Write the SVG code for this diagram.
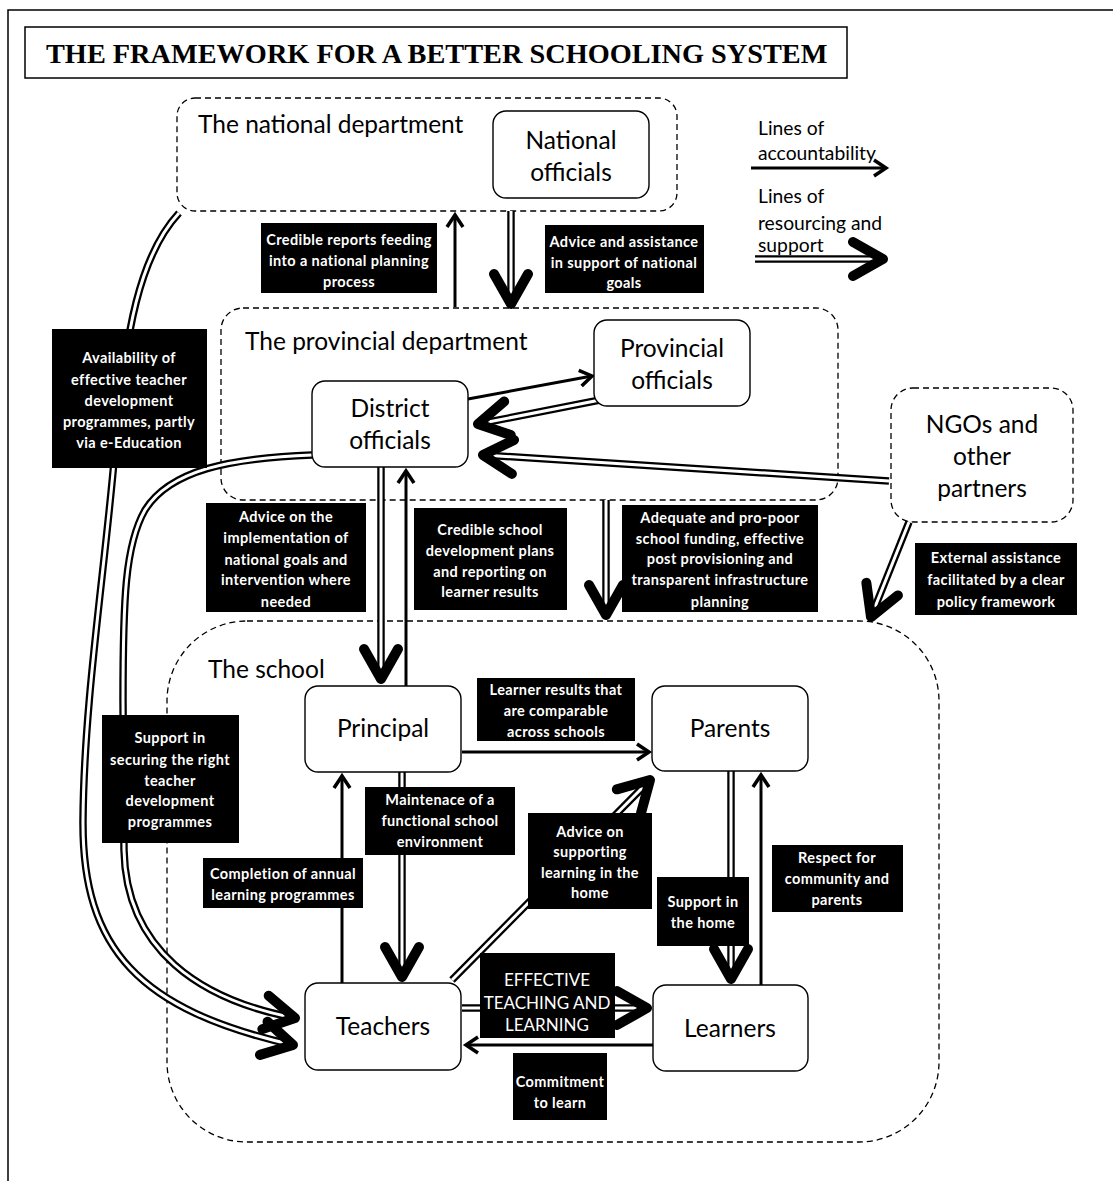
<svg xmlns="http://www.w3.org/2000/svg" xmlns:xlink="http://www.w3.org/1999/xlink" width="1113" height="1181" viewBox="0 0 1113 1181">
<style>
.frame{fill:none;stroke:#000;stroke-width:1.5}
.grp{fill:none;stroke:#000;stroke-width:1.3;stroke-dasharray:6 4}
.box{fill:#fff;stroke:#000;stroke-width:1.4}
.t{font-family:Lato,"Liberation Sans",sans-serif;font-size:24.5px;fill:#000}
.leg{font-family:Lato,"Liberation Sans",sans-serif;font-size:19.3px;fill:#000}
.c{text-anchor:middle}
.title{font-family:"Liberation Serif","Times New Roman",serif;font-weight:bold;font-size:28.3px;fill:#000}
.lb rect{fill:#000}
.lb text{font-family:Lato,"Liberation Sans",sans-serif;font-weight:bold;font-size:14.5px;fill:#fff;text-anchor:middle;letter-spacing:0.4px}
.lb text.eff{font-weight:normal;font-size:17px;letter-spacing:0}
.s{fill:none;stroke:#000;stroke-width:3;marker-end:url(#ah)}
.db{fill:none;stroke:#000;stroke-width:7.5}
.dw{fill:none;stroke:#fff;stroke-width:3}
.dm{fill:none;stroke:none;marker-end:url(#ad)}
</style>
<defs>
<marker id="ah" markerUnits="userSpaceOnUse" orient="auto" overflow="visible" markerWidth="1" markerHeight="1" refX="0" refY="0">
<path d="M-12,-8 L0,0 L-12,8" fill="none" stroke="#000" stroke-width="3.5"/>
</marker>
<marker id="ad" markerUnits="userSpaceOnUse" orient="auto" overflow="visible" markerWidth="1" markerHeight="1" refX="0" refY="0">
<path d="M-30,-17 L0,0 L-30,17" fill="none" stroke="#000" stroke-width="10" stroke-linejoin="round" stroke-linecap="round"/>
</marker>
<path id="dLeg" d="M755,259 L883,259"/>
<path id="dNatProv" d="M511,211 L511,304"/>
<path id="dProvDist" d="M600,400 L478,424"/>
<path id="dNgoDist" d="M889,481 L483,455"/>
<path id="dNgoSch" d="M909,522 L871,617"/>
<path id="dProvSch" d="M606,500 L606,615"/>
<path id="dDistPri" d="M381,467 L381,679"/>
<path id="dPriTea" d="M402,772 L402,977"/>
<path id="dTeaPar" d="M452,980 L650,780"/>
<path id="dParLea" d="M731,771 L731,979"/>
<path id="dTeaLea" d="M462,1008 L647,1008"/>
<path id="dNatCurve" d="M179,213 C140,255 125,330 115,450 C105,570 84,700 83,820 C82,950 140,1010 293,1045"/>
<path id="dDistCurve" d="M312,455 C230,458 170,470 145,510 C125,545 123,600 123,700 L124,850 C126,950 200,1000 295,1018"/>
</defs>

<rect class="frame" x="8" y="10" width="1130" height="1200"/>
<g id="title">
<rect class="frame" x="25" y="27" width="822" height="51"/>
<text class="title" x="46" y="63">THE FRAMEWORK FOR A BETTER SCHOOLING SYSTEM</text>
</g>

<g id="national-department">
<rect class="grp" x="177" y="98" width="500" height="113" rx="18"/>
<text class="t" x="198" y="133">The national department</text>
</g>
<g id="provincial-department">
<rect class="grp" x="221" y="308" width="617" height="192" rx="22"/>
<text class="t" x="245" y="350">The provincial department</text>
</g>
<g id="school">
<rect class="grp" x="167" y="621" width="772" height="521" rx="80"/>
<text class="t" x="208" y="678">The school</text>
</g>

<g id="legend">
<text class="leg" x="758" y="135">Lines of</text>
<text class="leg" x="758" y="160">accountability</text>
<line class="s" x1="751" y1="168" x2="886" y2="168"/>
<text class="leg" x="758" y="203">Lines of</text>
<text class="leg" x="758" y="230">resourcing and</text>
<text class="leg" x="758" y="252">support</text>
<use xlink:href="#dLeg" class="db"/><use xlink:href="#dLeg" class="dw"/><use xlink:href="#dLeg" class="dm"/>
</g>

<g id="connectors">
<line class="s" x1="455" y1="307" x2="455" y2="215"/>
<line class="s" x1="468" y1="399" x2="592" y2="376"/>
<line class="s" x1="406" y1="686" x2="406" y2="471"/>
<line class="s" x1="342" y1="983" x2="342" y2="776"/>
<line class="s" x1="462" y1="752" x2="649" y2="752"/>
<line class="s" x1="761" y1="985" x2="761" y2="775"/>
<line class="s" x1="653" y1="1045" x2="466" y2="1045"/>
<use xlink:href="#dNatProv" class="db"/><use xlink:href="#dNatProv" class="dw"/><use xlink:href="#dNatProv" class="dm"/>
<use xlink:href="#dProvDist" class="db"/><use xlink:href="#dProvDist" class="dw"/><use xlink:href="#dProvDist" class="dm"/>
<use xlink:href="#dNgoDist" class="db"/><use xlink:href="#dNgoDist" class="dw"/><use xlink:href="#dNgoDist" class="dm"/>
<use xlink:href="#dNgoSch" class="db"/><use xlink:href="#dNgoSch" class="dw"/><use xlink:href="#dNgoSch" class="dm"/>
<use xlink:href="#dProvSch" class="db"/><use xlink:href="#dProvSch" class="dw"/><use xlink:href="#dProvSch" class="dm"/>
<use xlink:href="#dDistPri" class="db"/><use xlink:href="#dDistPri" class="dw"/><use xlink:href="#dDistPri" class="dm"/>
<use xlink:href="#dPriTea" class="db"/><use xlink:href="#dPriTea" class="dw"/><use xlink:href="#dPriTea" class="dm"/>
<use xlink:href="#dTeaPar" class="db"/><use xlink:href="#dTeaPar" class="dw"/><use xlink:href="#dTeaPar" class="dm"/>
<use xlink:href="#dParLea" class="db"/><use xlink:href="#dParLea" class="dw"/><use xlink:href="#dParLea" class="dm"/>
<use xlink:href="#dTeaLea" class="db"/><use xlink:href="#dTeaLea" class="dw"/><use xlink:href="#dTeaLea" class="dm"/>
<use xlink:href="#dNatCurve" class="db"/><use xlink:href="#dNatCurve" class="dw"/><use xlink:href="#dNatCurve" class="dm"/>
<use xlink:href="#dDistCurve" class="db"/><use xlink:href="#dDistCurve" class="dw"/><use xlink:href="#dDistCurve" class="dm"/>
</g>

<g id="labels" class="lb">
<g id="lbl-credible-reports"><rect x="261" y="223" width="176" height="70"/>
<text x="349" y="245">Credible reports feeding</text><text x="349" y="266">into a national planning</text><text x="349" y="287">process</text></g>
<g id="lbl-advice-assistance"><rect x="545" y="225" width="159" height="68"/>
<text x="624" y="247">Advice and assistance</text><text x="624" y="268">in support of national</text><text x="624" y="288">goals</text></g>
<g id="lbl-availability"><rect x="52" y="329" width="155" height="139"/>
<text x="129" y="363">Availability of</text><text x="129" y="385">effective teacher</text><text x="129" y="406">development</text><text x="129" y="427">programmes, partly</text><text x="129" y="448">via e-Education</text></g>
<g id="lbl-advice-implementation"><rect x="206" y="503" width="160" height="109"/>
<text x="286" y="522">Advice on the</text><text x="286" y="543">implementation of</text><text x="286" y="565">national goals and</text><text x="286" y="585">intervention where</text><text x="286" y="607">needed</text></g>
<g id="lbl-credible-school"><rect x="414" y="508" width="153" height="102"/>
<text x="490" y="535">Credible school</text><text x="490" y="556">development plans</text><text x="490" y="577">and reporting on</text><text x="490" y="597">learner results</text></g>
<g id="lbl-adequate"><rect x="622" y="505" width="196" height="107"/>
<text x="720" y="523">Adequate and pro-poor</text><text x="720" y="544">school funding, effective</text><text x="720" y="564">post provisioning and</text><text x="720" y="585">transparent infrastructure</text><text x="720" y="607">planning</text></g>
<g id="lbl-external"><rect x="915" y="543" width="162" height="72"/>
<text x="996" y="563">External assistance</text><text x="996" y="585">facilitated by a clear</text><text x="996" y="607">policy framework</text></g>
<g id="lbl-support-securing"><rect x="102" y="715" width="137" height="128"/>
<text x="170" y="743">Support in</text><text x="170" y="765">securing the right</text><text x="170" y="786">teacher</text><text x="170" y="806">development</text><text x="170" y="827">programmes</text></g>
<g id="lbl-completion"><rect x="203" y="858" width="160" height="50"/>
<text x="283" y="879">Completion of annual</text><text x="283" y="900">learning programmes</text></g>
<g id="lbl-maintenance"><rect x="365" y="787" width="150" height="68"/>
<text x="440" y="805">Maintenace of a</text><text x="440" y="826">functional school</text><text x="440" y="847">environment</text></g>
<g id="lbl-learner-results"><rect x="477" y="678" width="158" height="63"/>
<text x="556" y="695">Learner results that</text><text x="556" y="716">are comparable</text><text x="556" y="737">across schools</text></g>
<g id="lbl-advice-home"><rect x="528" y="813" width="124" height="96"/>
<text x="590" y="837">Advice on</text><text x="590" y="857">supporting</text><text x="590" y="878">learning in the</text><text x="590" y="898">home</text></g>
<g id="lbl-support-home"><rect x="657" y="877" width="92" height="69"/>
<text x="703" y="907">Support in</text><text x="703" y="928">the home</text></g>
<g id="lbl-respect"><rect x="772" y="845" width="131" height="67"/>
<text x="837" y="863">Respect for</text><text x="837" y="884">community and</text><text x="837" y="905">parents</text></g>
<g id="lbl-effective"><rect x="480" y="953" width="135" height="85"/>
<text class="eff" x="547" y="986">EFFECTIVE</text><text class="eff" x="547" y="1009">TEACHING AND</text><text class="eff" x="547" y="1031">LEARNING</text></g>
<g id="lbl-commitment"><rect x="513" y="1053" width="94" height="67"/>
<text x="560" y="1087">Commitment</text><text x="560" y="1108">to learn</text></g>
</g>

<g id="national-officials">
<rect class="box" x="493" y="111" width="156" height="87" rx="13"/>
<text class="t c" x="571" y="149">National</text><text class="t c" x="571" y="181">officials</text>
</g>
<g id="provincial-officials">
<rect class="box" x="594" y="320" width="156" height="86" rx="13"/>
<text class="t c" x="672" y="357">Provincial</text><text class="t c" x="672" y="389">officials</text>
</g>
<g id="district-officials">
<rect class="box" x="312" y="381" width="156" height="86" rx="13"/>
<text class="t c" x="390" y="417">District</text><text class="t c" x="390" y="449">officials</text>
</g>
<g id="ngos">
<rect class="grp" x="891" y="388" width="182" height="134" rx="22"/>
<text class="t c" x="982" y="433">NGOs and</text><text class="t c" x="982" y="465">other</text><text class="t c" x="982" y="497">partners</text>
</g>
<g id="principal">
<rect class="box" x="305" y="686" width="156" height="86" rx="13"/>
<text class="t c" x="383" y="737">Principal</text>
</g>
<g id="parents">
<rect class="box" x="652" y="686" width="156" height="85" rx="13"/>
<text class="t c" x="730" y="737">Parents</text>
</g>
<g id="teachers">
<rect class="box" x="305" y="983" width="156" height="87" rx="13"/>
<text class="t c" x="383" y="1035">Teachers</text>
</g>
<g id="learners">
<rect class="box" x="653" y="985" width="155" height="86" rx="13"/>
<text class="t c" x="730" y="1037">Learners</text>
</g>
</svg>
